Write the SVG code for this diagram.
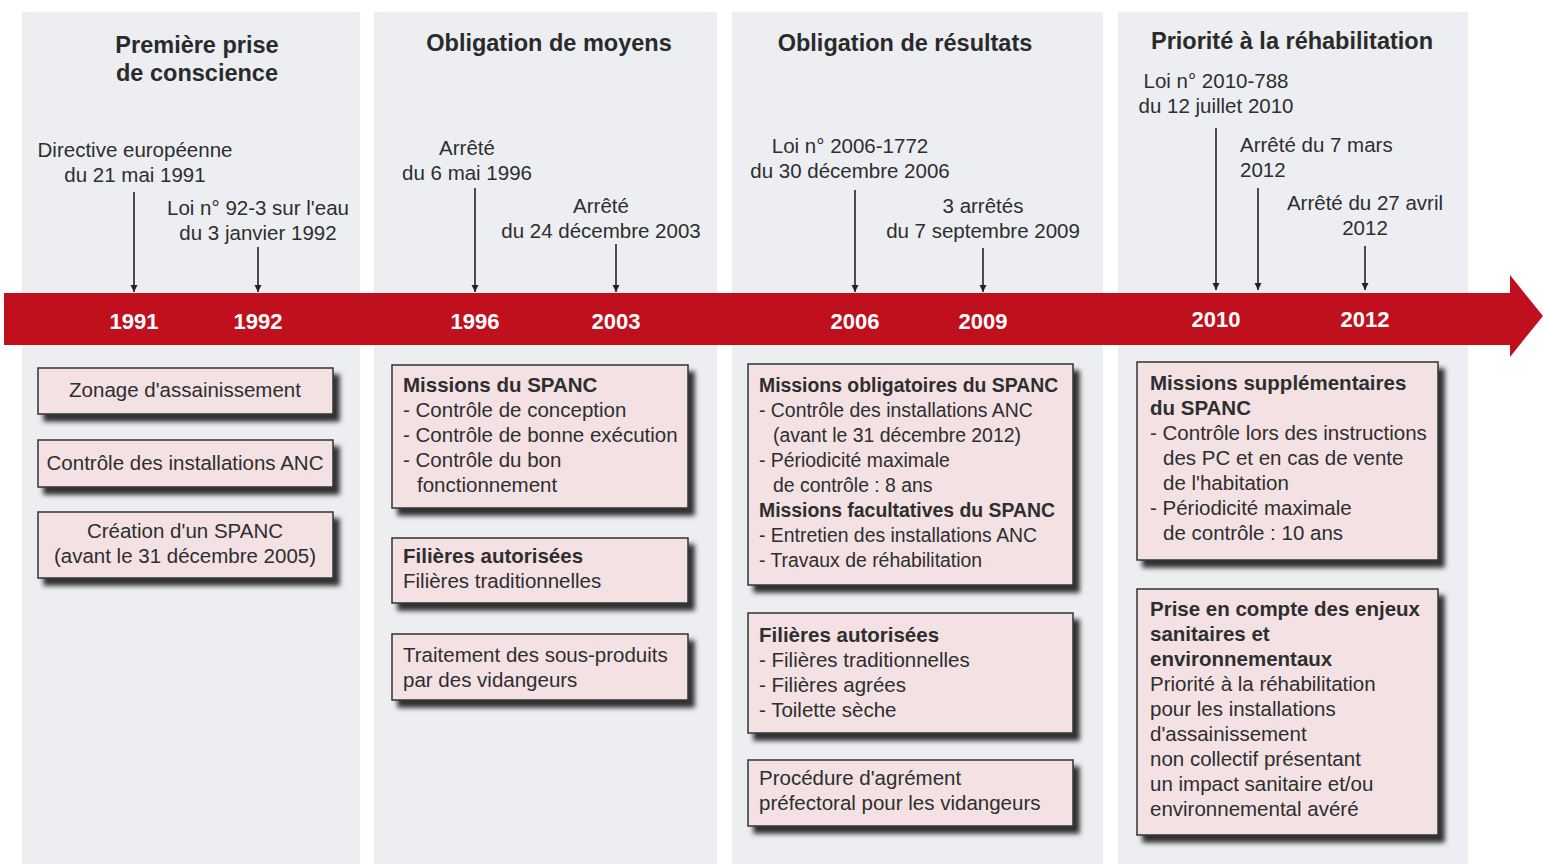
<svg xmlns="http://www.w3.org/2000/svg" width="1543" height="864" viewBox="0 0 1543 864">
<style>
.col{fill:#eceef2}
.hd{font-family:"Liberation Sans",Arial,sans-serif;font-weight:bold;font-size:23.5px;fill:#2a2a2a;text-anchor:middle}
.lb{font-family:"Liberation Sans",Arial,sans-serif;font-size:20.5px;fill:#2e2e2e}
.sm{font-size:19.4px}
.c{text-anchor:middle}
.b{font-weight:bold}
.yr{font-family:"Liberation Sans",Arial,sans-serif;font-weight:bold;font-size:22px;fill:#ffffff;text-anchor:middle}
.box{fill:#f3e1e4;stroke:#333;stroke-width:1.5;filter:url(#sh)}
.ar{stroke:#222;stroke-width:1.6;fill:none;marker-end:url(#ah)}
</style>
<defs>
<filter id="sh" x="-10%" y="-10%" width="130%" height="140%">
<feDropShadow dx="6" dy="7" stdDeviation="2.5" flood-color="#000" flood-opacity="0.8"/>
</filter>
<marker id="ah" viewBox="0 0 10 10" refX="10" refY="5" markerWidth="7" markerHeight="8" markerUnits="userSpaceOnUse" orient="auto">
<path d="M0,0 L10,5 L0,10 z" fill="#222"/>
</marker>
</defs>
<rect width="1543" height="864" fill="#ffffff"/>
<g id="columns">
<rect class="col" x="22" y="12" width="338" height="852"/>
<rect class="col" x="374" y="12" width="343" height="852"/>
<rect class="col" x="732" y="12" width="371" height="852"/>
<rect class="col" x="1118" y="12" width="350" height="852"/>
</g>
<g id="headers">
<text class="hd" x="197" y="53">Première prise</text>
<text class="hd" x="197" y="81">de conscience</text>
<text class="hd" x="549" y="51">Obligation de moyens</text>
<text class="hd" x="905" y="51">Obligation de résultats</text>
<text class="hd" x="1292" y="49">Priorité à la réhabilitation</text>
</g>
<g id="timeline">
<path d="M4,293 H1510 V275 L1543,316 L1510,357 V345 H4 Z" fill="#c0101e"/>
<text class="yr" x="134" y="329">1991</text>
<text class="yr" x="258" y="329">1992</text>
<text class="yr" x="475" y="329">1996</text>
<text class="yr" x="616" y="329">2003</text>
<text class="yr" x="855" y="329">2006</text>
<text class="yr" x="983" y="329">2009</text>
<text class="yr" x="1216" y="327">2010</text>
<text class="yr" x="1365" y="327">2012</text>
</g>
<g id="connectors">
<line class="ar" x1="134" y1="192" x2="134" y2="292"/>
<line class="ar" x1="258" y1="247" x2="258" y2="292"/>
<line class="ar" x1="475" y1="188" x2="475" y2="292"/>
<line class="ar" x1="616" y1="244" x2="616" y2="292"/>
<line class="ar" x1="855" y1="190" x2="855" y2="292"/>
<line class="ar" x1="983" y1="248" x2="983" y2="292"/>
<line class="ar" x1="1216" y1="128" x2="1216" y2="290"/>
<line class="ar" x1="1258" y1="188" x2="1258" y2="290"/>
<line class="ar" x1="1365" y1="246" x2="1365" y2="290"/>
</g>
<g id="event-labels">
<text class="lb c" x="135" y="157">Directive européenne</text>
<text class="lb c" x="135" y="182">du 21 mai 1991</text>
<text class="lb c" x="258" y="215">Loi n° 92-3 sur l'eau</text>
<text class="lb c" x="258" y="240">du 3 janvier 1992</text>
<text class="lb c" x="467" y="155">Arrêté</text>
<text class="lb c" x="467" y="180">du 6 mai 1996</text>
<text class="lb c" x="601" y="213">Arrêté</text>
<text class="lb c" x="601" y="238">du 24 décembre 2003</text>
<text class="lb c" x="850" y="153">Loi n° 2006-1772</text>
<text class="lb c" x="850" y="178">du 30 décembre 2006</text>
<text class="lb c" x="983" y="213">3 arrêtés</text>
<text class="lb c" x="983" y="238">du 7 septembre 2009</text>
<text class="lb c" x="1216" y="88">Loi n° 2010-788</text>
<text class="lb c" x="1216" y="113">du 12 juillet 2010</text>
<text class="lb" x="1240" y="152">Arrêté du 7 mars</text>
<text class="lb" x="1240" y="177">2012</text>
<text class="lb c" x="1365" y="210">Arrêté du 27 avril</text>
<text class="lb c" x="1365" y="235">2012</text>
</g>
<g id="box-zonage">
<rect class="box" x="38" y="368" width="295" height="46"/>
<text class="lb c" x="185" y="397">Zonage d'assainissement</text>
</g>
<g id="box-controle-anc">
<rect class="box" x="38" y="440" width="295" height="47"/>
<text class="lb c" x="185" y="470">Contrôle des installations ANC</text>
</g>
<g id="box-creation-spanc">
<rect class="box" x="38" y="512" width="295" height="66"/>
<text class="lb c" x="185" y="538">Création d'un SPANC</text>
<text class="lb c" x="185" y="563">(avant le 31 décembre 2005)</text>
</g>
<g id="box-missions-spanc">
<rect class="box" x="392" y="365" width="296" height="143"/>
<text class="lb b" x="403" y="392">Missions du SPANC</text>
<text class="lb" x="403" y="417">- Contrôle de conception</text>
<text class="lb" x="403" y="442">- Contrôle de bonne exécution</text>
<text class="lb" x="403" y="467">- Contrôle du bon</text>
<text class="lb" x="417" y="492">fonctionnement</text>
</g>
<g id="box-filieres-1996">
<rect class="box" x="392" y="538" width="296" height="65"/>
<text class="lb b" x="403" y="563">Filières autorisées</text>
<text class="lb" x="403" y="588">Filières traditionnelles</text>
</g>
<g id="box-traitement">
<rect class="box" x="392" y="634" width="296" height="66"/>
<text class="lb" x="403" y="662">Traitement des sous-produits</text>
<text class="lb" x="403" y="687">par des vidangeurs</text>
</g>
<g id="box-missions-2006">
<rect class="box" x="748" y="364" width="325" height="221"/>
<text class="lb sm b" x="759" y="392">Missions obligatoires du SPANC</text>
<text class="lb sm" x="759" y="417">- Contrôle des installations ANC</text>
<text class="lb sm" x="773" y="442">(avant le 31 décembre 2012)</text>
<text class="lb sm" x="759" y="467">- Périodicité maximale</text>
<text class="lb sm" x="773" y="492">de contrôle : 8 ans</text>
<text class="lb sm b" x="759" y="517">Missions facultatives du SPANC</text>
<text class="lb sm" x="759" y="542">- Entretien des installations ANC</text>
<text class="lb sm" x="759" y="567">- Travaux de réhabilitation</text>
</g>
<g id="box-filieres-2009">
<rect class="box" x="748" y="613" width="325" height="120"/>
<text class="lb b" x="759" y="642">Filières autorisées</text>
<text class="lb" x="759" y="667">- Filières traditionnelles</text>
<text class="lb" x="759" y="692">- Filières agrées</text>
<text class="lb" x="759" y="717">- Toilette sèche</text>
</g>
<g id="box-procedure">
<rect class="box" x="748" y="760" width="325" height="66"/>
<text class="lb" x="759" y="785">Procédure d'agrément</text>
<text class="lb" x="759" y="810">préfectoral pour les vidangeurs</text>
</g>
<g id="box-missions-supp">
<rect class="box" x="1137" y="362" width="301" height="198"/>
<text class="lb b" x="1150" y="390">Missions supplémentaires</text>
<text class="lb b" x="1150" y="415">du SPANC</text>
<text class="lb" x="1150" y="440">- Contrôle lors des instructions</text>
<text class="lb" x="1163" y="465">des PC et en cas de vente</text>
<text class="lb" x="1163" y="490">de l'habitation</text>
<text class="lb" x="1150" y="515">- Périodicité maximale</text>
<text class="lb" x="1163" y="540">de contrôle : 10 ans</text>
</g>
<g id="box-enjeux">
<rect class="box" x="1137" y="589" width="301" height="246"/>
<text class="lb b" x="1150" y="616">Prise en compte des enjeux</text>
<text class="lb b" x="1150" y="641">sanitaires et</text>
<text class="lb b" x="1150" y="666">environnementaux</text>
<text class="lb" x="1150" y="691">Priorité à la réhabilitation</text>
<text class="lb" x="1150" y="716">pour les installations</text>
<text class="lb" x="1150" y="741">d'assainissement</text>
<text class="lb" x="1150" y="766">non collectif présentant</text>
<text class="lb" x="1150" y="791">un impact sanitaire et/ou</text>
<text class="lb" x="1150" y="816">environnemental avéré</text>
</g>
</svg>
